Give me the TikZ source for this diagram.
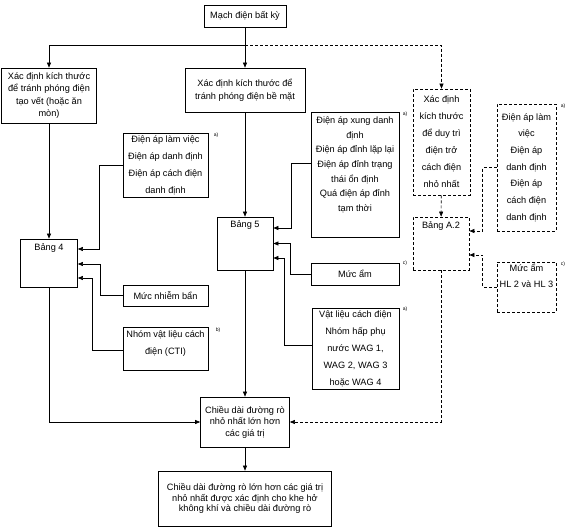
\documentclass[tikz,border=0pt]{standalone}
\usepackage{fontspec}
\setmainfont{Liberation Sans}
\usetikzlibrary{arrows.meta}

\begin{document}
\begin{tikzpicture}[
          x=1pt, y=-1pt, line width=0.6pt,
          >={Triangle[length=5pt, width=4pt]},
          every node/.style={font=\fontsize{9.2}{12.5}\selectfont, align=center, inner sep=0pt},
          box/.style 2 args={draw, line width=0.7pt, minimum width=#1pt, minimum height=#2pt},
          dbox/.style 2 args={box={#1}{#2}, dash pattern=on 3pt off 2pt},
          dline/.style={dash pattern=on 3pt off 2pt},
          loose/.style={font=\fontsize{9.2}{17}\selectfont},
          fn/.style={font=\fontsize{5}{6}\selectfont}
        ]
        \useasboundingbox (0,0) rectangle (568,530);

        \node[box={82}{22}] (mach) at (245,16) {Mạch điện bất kỳ};
        \node[box={95}{55}] (vet) at (49,95.5) {Xác định kích thước\\để tránh phóng điện\\tạo vết (hoặc ăn\\mòn)};
        \node[box={120}{44}] (bemat) at (245,90) {Xác định kích thước để\\tránh phóng điện bề mặt};
        \node[dbox={57}{106}, loose] (duytri) at (441.5,142) {Xác định\\kích thước\\để duy trì\\điện trở\\cách điện\\nhỏ nhất};

        \node[box={57}{48}, label={[anchor=north, yshift=-5pt]north:Bảng 4}] (bang4) at (49,263) {};
        \node[box={56}{53}, label={[anchor=north, yshift=-4pt]north:Bảng 5}] (bang5) at (245,243.5) {};
        \node[dbox={56}{53}, label={[anchor=north, yshift=-5pt]north:Bảng A.2}] (banga2) at (441,243.5) {};

        \node[box={85}{64}, loose] (lv) at (165.5,165) {Điện áp làm việc\\Điện áp danh định\\Điện áp cách điện\\danh định};
        \node[box={85}{21}] (nhiem) at (165.5,295.5) {Mức nhiễm bẩn};
        \node[box={85}{43}, label={[anchor=north, yshift=-4pt, loose]north:{Nhóm vật liệu cách\\điện (CTI)}}] (cti) at (165.5,348.5) {};

        \node[box={88}{125}, label={[anchor=north, yshift=-5pt, font=\fontsize{9.2}{14.6}\selectfont]north:{Điện áp xung danh\\định\\Điện áp đỉnh lặp lại\\Điện áp đỉnh trạng\\thái ổn định\\Quá điện áp đỉnh\\tạm thời}}] (xung) at (355,174.5) {};
        \node[box={88}{22}] (am) at (355,274) {Mức ẩm};
        \node[box={87}{81}, loose] (vat) at (355.5,348.5) {Vật liệu cách điện\\Nhóm hấp phụ\\nước WAG 1,\\WAG 2, WAG 3\\hoặc WAG 4};

        \node[dbox={59}{127}, font=\fontsize{9.2}{16.7}\selectfont] (lv2) at (526.5,167.5) {Điện áp làm\\việc\\Điện áp\\danh định\\Điện áp\\cách điện\\danh định};
        \node[dbox={59}{50}, label={[anchor=north, yshift=-2pt, font=\fontsize{9.2}{16}\selectfont]north:{Mức ẩm\\HL 2 và HL 3}}] (hl) at (526.5,287) {};

        \node[box={89}{50}, font=\fontsize{9.2}{11.5}\selectfont] (chieu) at (245,422) {Chiều dài đường rò\\nhỏ nhất lớn hơn\\các giá trị};
        \node[box={173}{55}, font=\fontsize{9.2}{10.8}\selectfont] (ketqua) at (245,498.5) {Chiều dài đường rò lớn hơn các giá trị\\nhỏ nhất được xác định cho khe hở\\không khí và chiều dài đường rò};

        \node[fn] (fa1) at (216,135) {a)};
        \node[fn] (fb) at (218,330) {b)};
        \node[fn] (fa2) at (405,114) {a)};
        \node[fn] (fc1) at (405,263) {c)};
        \node[fn] (fa3) at (405,309) {a)};
        \node[fn] (fa4) at (563,106) {a)};
        \node[fn] (fc2) at (563,264) {c)};

        \coordinate (fork) at (245,45);
        \draw[->] (mach) -- (bemat);
        \draw[->] (fork) -| (vet);
        \draw[->, dline] (fork) -| (duytri);
        \draw[->] (vet) -- (bang4);
        \draw[->] (bemat) -- (bang5);
        \draw[->, dline] (duytri) -- (banga2);

        \draw[->] (lv.west) -- ++(-23,0) |- ([yshift=14pt]bang4.east);
        \draw[->] (nhiem.west) -- ++(-22,0) |- ([yshift=-1pt]bang4.east);
        \draw[->] ([yshift=-2pt]cti.west) -- ++(-30,0) |- ([yshift=-15pt]bang4.east);

        \draw[->] ([yshift=11pt]xung.west) -- ++(-19,0) |- ([yshift=15.5pt]bang5.east);
        \draw[->] (am.west) -- ++(-20,0) |- (bang5.east);
        \draw[->] ([yshift=3pt]vat.west) -- ++(-27,0) |- ([yshift=-14.5pt]bang5.east);

        \draw[->, dline] (lv2.west) -- ++(-14,0) |- ([yshift=12.5pt]banga2.east);
        \draw[->, dline] (hl.west) -- ++(-14,0) |- ([yshift=-11.5pt]banga2.east);

        \draw[->] (bang4) |- (chieu);
        \draw[->] (bang5) -- (chieu);
        \draw[->, dline] (banga2) |- (chieu);
        \draw[->] (chieu) -- (ketqua);

        \end{tikzpicture}
\end{document}
